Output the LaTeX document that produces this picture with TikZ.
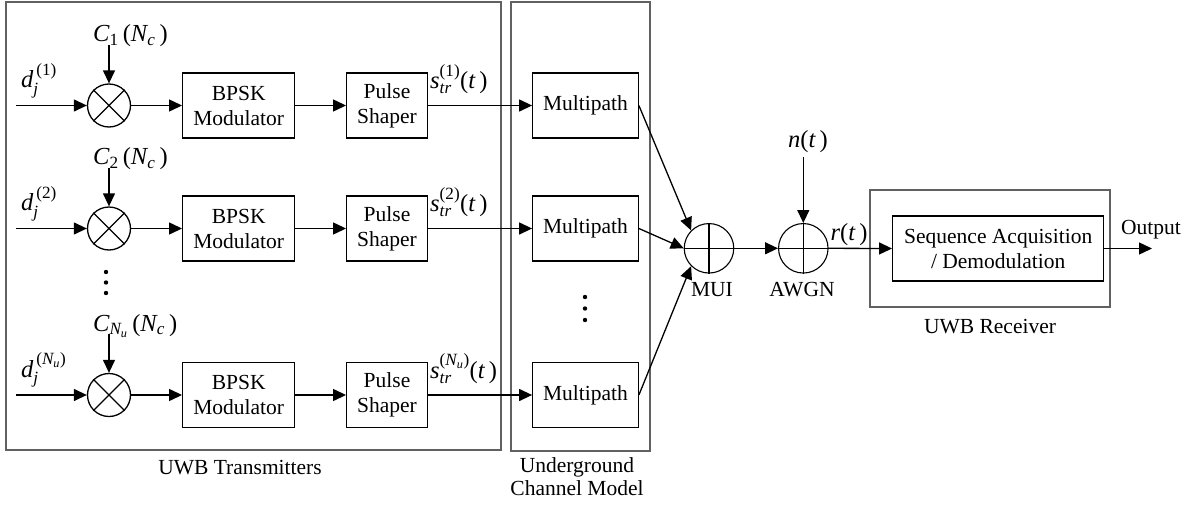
\documentclass[tikz,border=0pt]{standalone}
\usepackage{amsmath}
\usepackage{fontspec}
\setmainfont{Liberation Serif}
\usetikzlibrary{arrows.meta}
\newcommand{\iv}[1]{\textit{#1}}
\newcommand{\rv}[1]{\textrm{#1}}
\begin{document}
\begin{tikzpicture}[x=1pt,y=-1pt,
  font=\rmfamily\fontsize{21.5}{26}\selectfont,
  blk/.style={draw, line width=1.3pt, minimum height=65pt, align=center, inner sep=0pt},
  mix/.style={draw, circle, minimum size=43pt, inner sep=0pt, line width=1.3pt},
  sum/.style={draw, circle, minimum size=49.5pt, inner sep=0pt, line width=1.1pt},
  arr/.style={-{Triangle[length=13pt,width=12pt]}, line width=1.3pt},
  frame/.style={draw=black!62, line width=1.2pt},
  lbl/.style={inner sep=0pt},
  mlbl/.style={inner sep=0pt, font=\rmfamily\fontsize{24.5}{28}\selectfont},
  dot/.style={fill=black, draw=none}]
\useasboundingbox (0,0) rectangle (1197,506);

% outer frames
\draw[frame] (6,2) rectangle (501,450);
\draw[frame] (511,2) rectangle (650,451);
\draw[frame] (870,190) rectangle (1110,307);

% summing nodes
\node[sum] (mui) at (709,248.3) {};
\node[sum] (awgn) at (803.3,248.3) {};
\draw[line width=1.1pt] (mui.north) -- (mui.south) (mui.west) -- (mui.east);
\draw[line width=1.1pt] (awgn.north) -- (awgn.south) (awgn.west) -- (awgn.east);
\node[lbl] (muil) at (712,290) {MUI};
\node[lbl] (awgnl) at (802,290) {AWGN};

% transmitter rows
\foreach \i/\y/\su/\cs in {1/105.5/{\rv{(1)}}/{\rv{1}}, 2/228.5/{\rv{(2)}}/{\rv{2}}, 3/395/{\rv{(}\iv{N}_{\iv{u}}\rv{)}}/{\iv{N}_{\iv{u}}}}{
  \coordinate (in\i) at (16,\y);
  \node[mix] (mx\i) at (109,\y) {};
  \draw[line width=1.3pt] (mx\i.north east) -- (mx\i.south west) (mx\i.north west) -- (mx\i.south east);
  \node[blk, minimum width=112pt] (bp\i) at (238.7,\y) {BPSK\\[-1pt]Modulator};
  \node[blk, minimum width=80.6pt] (ps\i) at (387,\y) {Pulse\\[-1pt]Shaper};
  \node[blk, minimum width=105.5pt] (mp\i) at (585.5,\y) {Multipath};
  \node[mlbl, anchor=base west] (d\i) at (21,\y-18) {$\iv{d}_{\iv{j}}^{\,\su}$};
  \node[mlbl, anchor=base west] (c\i) at (93,\y-64) {$\iv{C}_{\cs}\,\rv{(}\iv{N}_{\iv{c}}\,\rv{)}$};
  \coordinate (cs\i) at (109,\y-61);
  \node[mlbl, anchor=base west] (s\i) at (430,\y-17) {$\iv{s}_{\iv{tr}}^{\su}\rv{(}\iv{t}\,\rv{)}$};
  \draw[arr] (in\i) -- (mx\i);
  \draw[arr] (cs\i) -- (mx\i.north);
  \draw[arr] (mx\i) -- (bp\i);
  \draw[arr] (bp\i) -- (ps\i);
  \draw[arr] (ps\i) -- (mp\i);
}

% multipath to MUI
\draw[arr] (mp1.east) -- (mui.north west);
\draw[arr] (mp2.east) -- (mui.west);
\draw[arr] (mp3.east) -- (mui.south west);

% dots
\foreach \yy in {272,282.5,293} \fill[dot] (106,\yy) circle (2.2pt);
\foreach \yy in {297,308.5,320} \fill[dot] (585,\yy) circle (2.2pt);

% noise and receiver
\node[mlbl] (nt) at (808,141.7) {$\iv{n}\rv{(}\iv{t}\,\rv{)}$};
\coordinate (ns) at (803.3,157);
\draw[arr] (ns) -- (awgn.north);
\draw[arr] (mui.east) -- (awgn.west);
\node[blk, minimum width=211pt] (seq) at (998.2,248.5) {Sequence Acquisition\\[-1pt]/ Demodulation};
\draw[arr] (awgn.east) -- (seq.west);
\node[mlbl] (rt) at (849,235) {$\iv{r}\rv{(}\iv{t}\,\rv{)}$};
\coordinate (out) at (1152,248.5);
\draw[arr] (seq.east) -- (out);
\node[lbl] (outl) at (1151,230) {Output};

% captions
\node[lbl] (txl) at (240,468) {UWB Transmitters};
\node[lbl, align=center] (chl) at (577,477) {Underground\\[-3pt]Channel Model};
\node[lbl] (rxl) at (990,327) {UWB Receiver};
\end{tikzpicture}
\end{document}
